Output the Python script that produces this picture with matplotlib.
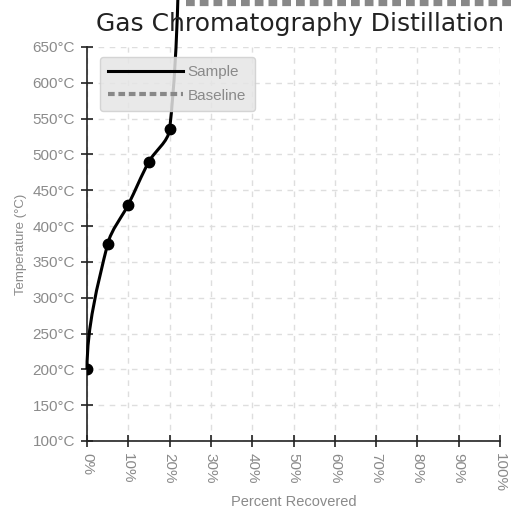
import numpy as np
import matplotlib
matplotlib.use("Agg")
import matplotlib.pyplot as plt
from matplotlib.path import Path
from matplotlib.patches import PathPatch
from matplotlib.lines import Line2D

# ---- data ----
sample_pct = [0, 5, 10, 15, 20, 23]
sample_temp = [200, 375, 430, 490, 535, 900]
baseline_pct = [24, 104]
baseline_temp = [712, 712]
x_ticks = list(range(0, 101, 10))
x_tick_labels = [f"{v}%" for v in x_ticks]
y_ticks = list(range(100, 651, 50))
y_tick_labels = [f"{v}°C" for v in y_ticks]
title = "Gas Chromatography Distillation"
x_label = "Percent Recovered"
y_label = "Temperature (°C)"
series_names = ["Sample", "Baseline"]

FONT = ['Liberation Sans', 'DejaVu Sans']
GREY = '#8a8a8a'

fig = plt.figure(figsize=(5.16, 5.18), dpi=100)
ax = fig.add_axes([87/516, 1-441/518, 413/516, 394/518])
ax.set_xlim(0, 100)
ax.set_ylim(100, 650)

for s in ['top', 'right']:
    ax.spines[s].set_visible(False)
for s in ['left', 'bottom']:
    ax.spines[s].set_color('#222222')
    ax.spines[s].set_linewidth(1.2)

ax.set_xticks(x_ticks)
ax.set_xticklabels(x_tick_labels, rotation=-90, va='top', ha='center',
                   family=FONT, color=GREY, fontsize=11)
ax.set_yticks(y_ticks)
ax.set_yticklabels(y_tick_labels, family=FONT, color=GREY, fontsize=11)
ax.tick_params(axis='both', direction='inout', length=8, width=1.2, color='#222222')
ax.tick_params(axis='x', pad=4.5)
ax.tick_params(axis='y', pad=4.5)

ax.grid(True, color='#dedede', linestyle=(0, (4, 4)), linewidth=1)
ax.set_axisbelow(True)

ax.set_xlabel(x_label, family=FONT, color=GREY, fontsize=10.5, labelpad=2)
ax.set_ylabel(y_label, family=FONT, color=GREY, fontsize=9.5, labelpad=4)

# smooth curve through the sample points: cubic Bezier segments with
# Catmull-Rom tangent directions, computed in display space
fig.canvas.draw()
P = ax.transData.transform(np.column_stack([sample_pct, sample_temp]).astype(float))
n = len(P)
chords = P[1:] - P[:-1]
L = np.hypot(chords[:, 0], chords[:, 1])
D = np.zeros_like(P)
D[0] = [0.0, 1.0]
for i in range(1, n - 1):
    v = P[i + 1] - P[i - 1]
    D[i] = v / np.hypot(*v)
D[-1] = chords[-1] / L[-1]
verts = [P[0]]
codes = [Path.MOVETO]
for i in range(n - 1):
    verts += [P[i] + D[i] * L[i] / 3, P[i + 1] - D[i + 1] * L[i] / 3, P[i + 1]]
    codes += [Path.CURVE4] * 3
verts_data = ax.transData.inverted().transform(np.array(verts))
curve = PathPatch(Path(verts_data, codes), fill=False, edgecolor='black', lw=2.2,
                  transform=ax.transData, clip_on=False, zorder=3)
ax.add_patch(curve)
ax.plot(sample_pct, sample_temp, linestyle='none', marker='o', markersize=7.5,
        color='black', zorder=4)

ax.plot(baseline_pct, baseline_temp, color='#888888', lw=4.5,
        dashes=(1.4, 0.8), clip_on=False, zorder=3)

handles = [Line2D([], [], color='black', lw=2.2),
           Line2D([], [], color='#888888', lw=3, dashes=(1.6, 0.9))]
leg = ax.legend(handles, series_names, loc='upper left',
                bbox_to_anchor=((100-87)/413, (441-57)/394),
                prop={'family': FONT, 'size': 11}, labelcolor=GREY,
                handlelength=4.9, handletextpad=0.3, borderpad=0.55,
                labelspacing=0.6, borderaxespad=0, fancybox=True,
                facecolor='#e6e6e6', edgecolor='#cfcfcf', framealpha=0.85)
leg.set_zorder(5)

fig.text(300/516, 1 - 31/518, title, ha='center', va='baseline',
         fontsize=18, color='#222222', family='DejaVu Sans')

fig.savefig('out.png', dpi=100)
